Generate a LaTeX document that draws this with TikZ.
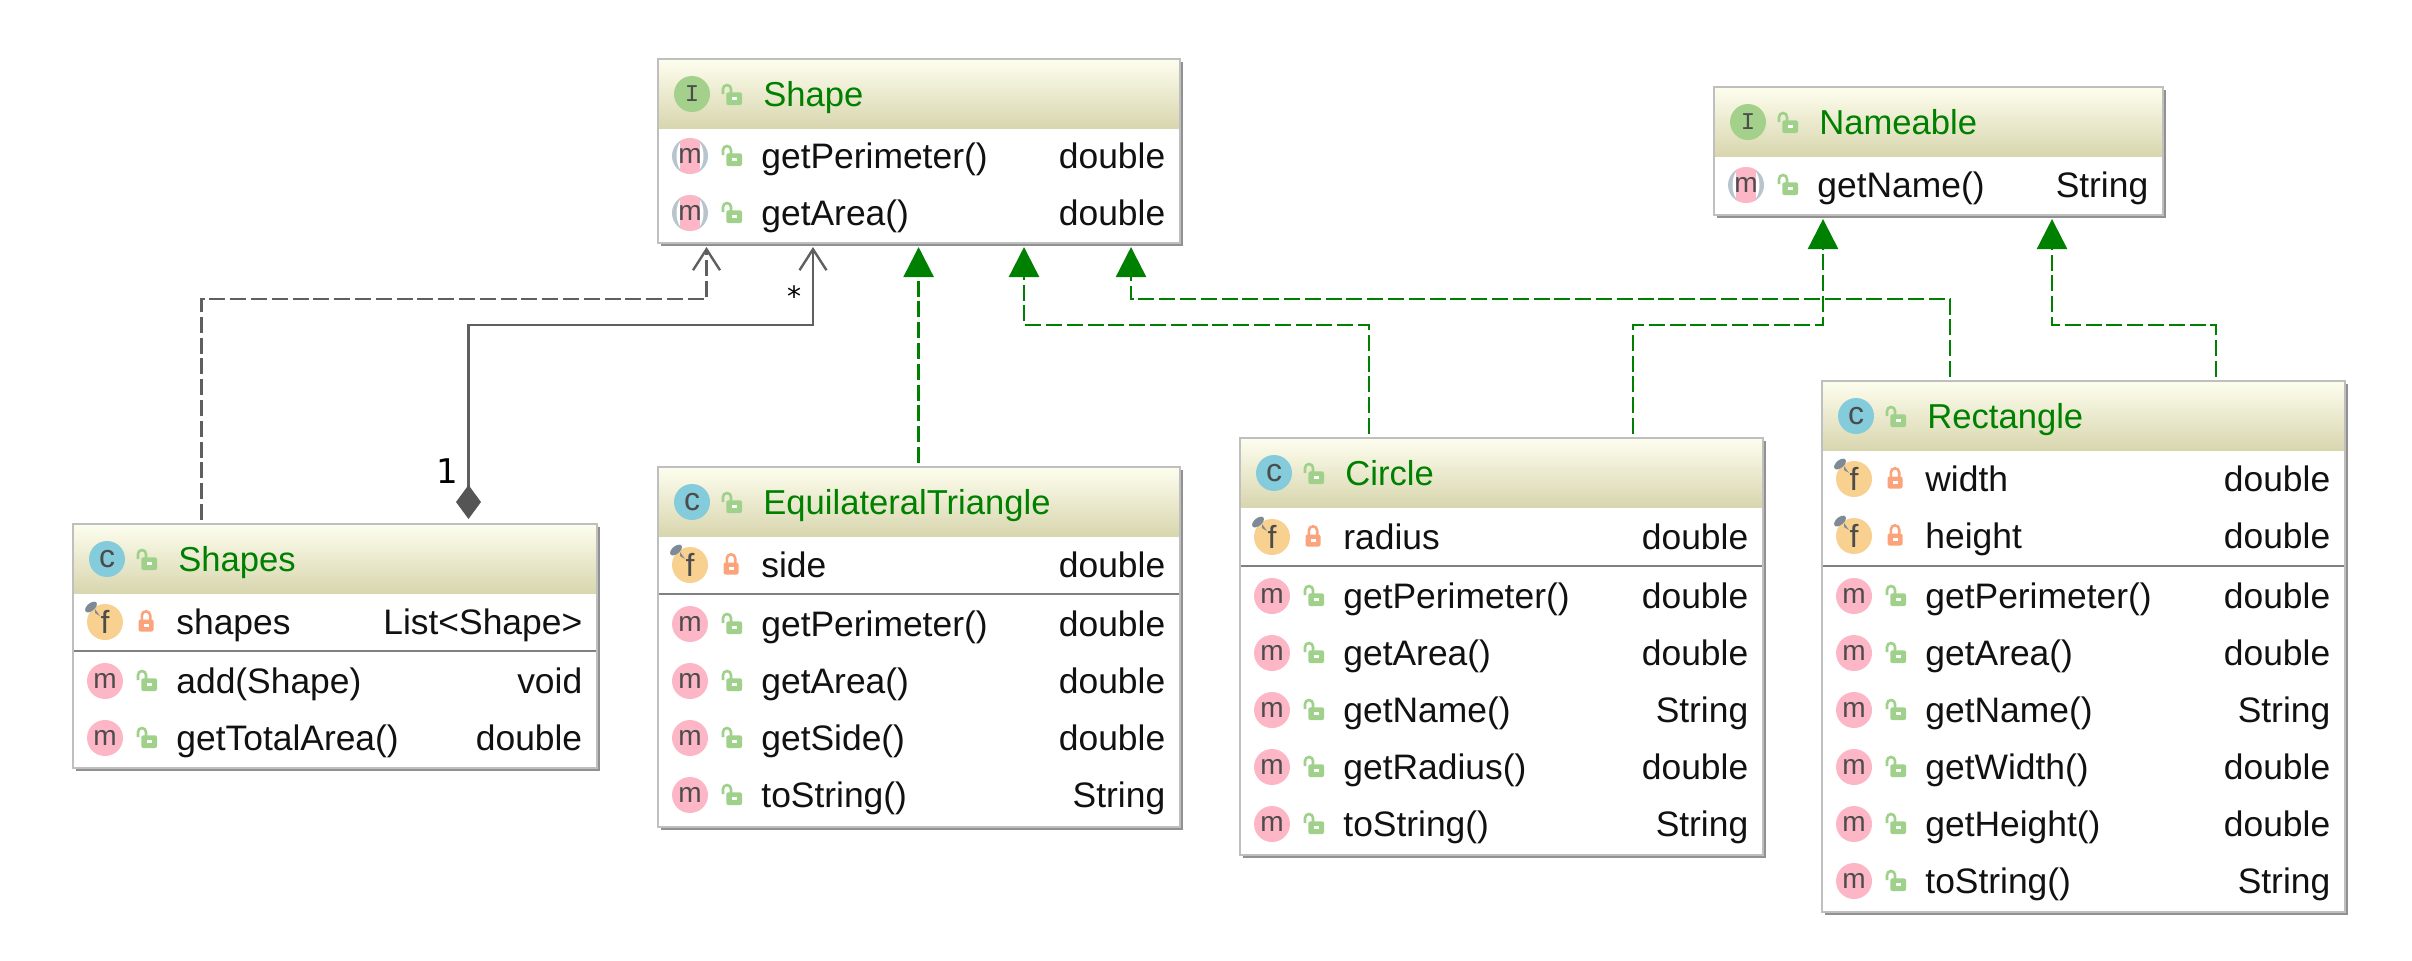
\documentclass[tikz,border=0pt]{standalone}
\usepackage{fontspec}
\setmainfont{Liberation Sans}
\newfontfamily\iconmono{Liberation Mono}
\newfontfamily\multifont{DejaVu Sans}
\usetikzlibrary{arrows.meta,shadows}
\definecolor{borderc}{RGB}{191, 191, 191}
\definecolor{shadowc}{RGB}{145, 145, 145}
\definecolor{sepc}{RGB}{128, 128, 128}
\definecolor{headtop}{RGB}{253, 253, 238}
\definecolor{headbottom}{RGB}{216, 214, 174}
\definecolor{titlec}{RGB}{0, 128, 0}
\definecolor{textc}{RGB}{17, 17, 17}
\definecolor{classc}{RGB}{132, 203, 219}
\definecolor{ifacec}{RGB}{163, 208, 138}
\definecolor{methodc}{RGB}{253, 182, 197}
\definecolor{fieldc}{RGB}{248, 208, 143}
\definecolor{absc}{RGB}{184, 196, 206}
\definecolor{pinc}{RGB}{125, 138, 152}
\definecolor{openc}{RGB}{159, 209, 139}
\definecolor{privc}{RGB}{251, 164, 124}
\definecolor{depc}{RGB}{95, 95, 95}
\definecolor{diamc}{RGB}{85, 85, 85}
\tikzset{
  classnode/.style={draw=borderc, line width=1.2pt, fill=white, rectangle, inner sep=0pt, outer sep=0pt, anchor=north west,
    drop shadow={shadow xshift=1.5pt, shadow yshift=-1.5pt, fill=shadowc, opacity=1}},
  classhead/.style={rectangle, inner sep=0pt, outer sep=0pt, anchor=north west, minimum height=34pt, top color=headtop, bottom color=headbottom},
  titletext/.style={text=titlec, inner sep=0pt, anchor=base west, font=\fontsize{17.3pt}{20pt}\selectfont},
  membertext/.style={text=textc, inner sep=0pt, font=\fontsize{17.7pt}{20pt}\selectfont},
  iconbase/.style={circle, inner sep=0pt, minimum size=18pt, text=black!70, font=\fontsize{14pt}{15pt}\selectfont},
  classicon/.style={iconbase, fill=classc, font=\fontsize{16pt}{15pt}\selectfont},
  ifaceicon/.style={iconbase, fill=ifacec, font=\iconmono\fontsize{12pt}{15pt}\selectfont},
  methodicon/.style={iconbase, fill=methodc},
  fieldicon/.style={iconbase, fill=fieldc, font=\fontsize{16pt}{15pt}\selectfont},
  absicon/.style={iconbase, fill=absc, path picture={
    \fill[white] (path picture bounding box.center) ellipse (13.5 and 20);
    \fill[methodc] ([xshift=-5.2pt,yshift=-10pt]path picture bounding box.center) rectangle ([xshift=5.2pt,yshift=10pt]path picture bounding box.center);}},
  fieldsep/.style={draw=sepc, line width=1.3pt},
  openlock/.pic={
    \draw[openc, line width=1.3pt] (-8,-1) -- (-8,-6) arc[start angle=180, end angle=360, x radius=4, y radius=4] -- (0,-2);
    \fill[openc, rounded corners=1pt] (-4.7,-2.7) rectangle (11,10);
    \fill[white] (1,2) rectangle (6,4.5);
  },
  privlock/.pic={
    \draw[privc, line width=1.3pt] (-4.2,-2) -- (-4.2,-6.5) arc[start angle=180, end angle=360, x radius=4.2, y radius=4.2] -- (4.2,-2);
    \fill[privc, rounded corners=1pt] (-7.5,-2.5) rectangle (7.5,9.5);
    \fill[white] (-2.5,1.5) rectangle (2.5,4.5);
  },
  fieldpin/.pic={
    \fill[pinc, rotate around={40:(-14,-15)}] (-14,-15) ellipse (7 and 3.8);
    \fill[pinc] (-10,-13) -- (-5,-6) -- (-10,-9) -- cycle;
  },
  depline/.style={draw=depc, line width=1.2pt, dash pattern=on 8pt off 2.4pt, -{Straight Barb[length=10.5pt, width=13.5pt]}},
  ownline/.style={draw=depc, line width=1.2pt, {Diamond[length=17pt, width=12.5pt, color=diamc]}-{Straight Barb[length=10.5pt, width=13.5pt]}},
  realline/.style={draw=titlec, line width=1.2pt, dash pattern=on 8pt off 2.4pt, -{Triangle[length=15pt, width=15pt]}},
  multitext/.style={inner sep=0pt, text=black, font=\multifont\fontsize{#1}{17pt}\selectfont},
}
% class box: name, left, top, width, height, icon style, icon letter, title
\newcommand{\classbox}[8]{
  \node[classnode, minimum width=#4pt, minimum height=#5pt] (#1) at (#2,#3) {};
  \node[classhead, minimum width=#4pt-1.2pt] (#1-head) at ([xshift=.6pt,yshift=-.6pt]#1.north west) {};
  \node[#6] (#1-icon) at ([xshift=17pt,yshift=-17.5pt]#1.north west) {#7};
  \pic at ([xshift=36.5pt,yshift=-18pt]#1.north west) {openlock};
  \node[titletext] (#1-title) at ([xshift=52.5pt,yshift=-23.8pt]#1.north west) {#8};
}
% member texts: class, row, offset from top, name, type
\newcommand{\memberrow}[5]{
  \node[membertext, anchor=base west] (#1-#2-name) at ([xshift=51.5pt,yshift=-#3pt-6pt]#1.north west) {#4};
  \node[membertext, anchor=base east] (#1-#2-type) at ([xshift=-7.2pt,yshift=-#3pt-6pt]#1.north east) {#5};
}
\newcommand{\classmethod}[5]{
  \node[methodicon] (#1-#2-icon) at ([xshift=16pt,yshift=-#3pt]#1.north west) {m};
  \pic at ([xshift=36.5pt,yshift=-#3pt]#1.north west) {openlock};
  \memberrow{#1}{#2}{#3}{#4}{#5}
}
\newcommand{\abstractmethod}[5]{
  \node[absicon] (#1-#2-icon) at ([xshift=16pt,yshift=-#3pt]#1.north west) {m};
  \pic at ([xshift=36.5pt,yshift=-#3pt]#1.north west) {openlock};
  \memberrow{#1}{#2}{#3}{#4}{#5}
}
\newcommand{\classfield}[5]{
  \node[fieldicon] (#1-#2-icon) at ([xshift=16pt,yshift=-#3pt]#1.north west) {f};
  \pic at (#1-#2-icon.center) {fieldpin};
  \pic at ([xshift=36.5pt,yshift=-#3pt]#1.north west) {privlock};
  \memberrow{#1}{#2}{#3}{#4}{#5}
}
\newcommand{\sepline}[2]{
  \draw[fieldsep] ([xshift=.6pt,yshift=-#2pt]#1.north west) -- ([xshift=-.6pt,yshift=-#2pt]#1.north east);
}
\begin{document}
\begin{tikzpicture}[x=0.5pt, y=-0.5pt]
    \useasboundingbox (0,0) rectangle (2412,960);

    % Shape
    \classbox{shape}{658}{59}{261}{92}{ifaceicon}{I}{Shape}
    \abstractmethod{shape}{perim}{48.5}{getPerimeter()}{double}
    \abstractmethod{shape}{area}{77}{getArea()}{double}

    % Nameable
    \classbox{nameable}{1714}{87}{224.5}{64}{ifaceicon}{I}{Nameable}
    \abstractmethod{nameable}{name}{49}{getName()}{String}

    % Shapes
    \classbox{shapes}{73}{524}{262}{122}{classicon}{c}{Shapes}
    \classfield{shapes}{list}{49}{shapes}{List<Shape>}
    \sepline{shapes}{63.5}
    \classmethod{shapes}{add}{78.5}{add(Shape)}{void}
    \classmethod{shapes}{total}{107}{getTotalArea()}{double}

    % EquilateralTriangle
    \classbox{triangle}{658}{467}{261}{180}{classicon}{c}{EquilateralTriangle}
    \classfield{triangle}{side}{49}{side}{double}
    \sepline{triangle}{63.5}
    \classmethod{triangle}{perim}{78.5}{getPerimeter()}{double}
    \classmethod{triangle}{area}{107}{getArea()}{double}
    \classmethod{triangle}{getside}{135.5}{getSide()}{double}
    \classmethod{triangle}{str}{164}{toString()}{String}

    % Circle
    \classbox{circle}{1240}{438}{261.5}{208.5}{classicon}{c}{Circle}
    \classfield{circle}{radius}{49.5}{radius}{double}
    \sepline{circle}{64}
    \classmethod{circle}{perim}{79}{getPerimeter()}{double}
    \classmethod{circle}{area}{107.5}{getArea()}{double}
    \classmethod{circle}{getname}{136}{getName()}{String}
    \classmethod{circle}{getradius}{164.5}{getRadius()}{double}
    \classmethod{circle}{str}{193}{toString()}{String}

    % Rectangle
    \classbox{rect}{1822}{381}{261.5}{265.5}{classicon}{c}{Rectangle}
    \classfield{rect}{width}{49}{width}{double}
    \classfield{rect}{height}{77.5}{height}{double}
    \sepline{rect}{92.5}
    \classmethod{rect}{perim}{107.5}{getPerimeter()}{double}
    \classmethod{rect}{area}{136}{getArea()}{double}
    \classmethod{rect}{getname}{164.5}{getName()}{String}
    \classmethod{rect}{getwidth}{193}{getWidth()}{double}
    \classmethod{rect}{getheight}{221.5}{getHeight()}{double}
    \classmethod{rect}{str}{250}{toString()}{String}

    % Connector ends and routing levels
    \coordinate (upper) at (0,299);
    \coordinate (lower) at (0,325);
    \coordinate (shapeUse) at ([xshift=24.25pt,yshift=-2pt]shape.south west);
    \coordinate (shapeOwn) at ([xshift=77.5pt,yshift=-2pt]shape.south west);
    \coordinate (shapeTri) at ([xshift=130.3pt,yshift=-2pt]shape.south west);
    \coordinate (shapeCirc) at ([xshift=183pt,yshift=-2pt]shape.south west);
    \coordinate (shapeRect) at ([xshift=236.5pt,yshift=-2pt]shape.south west);
    \coordinate (nameCirc) at ([xshift=54.5pt,yshift=-2pt]nameable.south west);
    \coordinate (nameRect) at ([xshift=169pt,yshift=-2pt]nameable.south west);
    \coordinate (shapesUse) at ([xshift=64.25pt,yshift=2pt]shapes.north west);
    \coordinate (shapesOwn) at ([xshift=197.75pt,yshift=2.5pt]shapes.north west);
    \coordinate (triUp) at ([xshift=130.3pt,yshift=2pt]triangle.north west);
    \coordinate (circLeft) at ([xshift=64.5pt,yshift=2pt]circle.north west);
    \coordinate (circRight) at ([xshift=196.5pt,yshift=2pt]circle.north west);
    \coordinate (rectLeft) at ([xshift=64pt,yshift=2pt]rect.north west);
    \coordinate (rectRight) at ([xshift=197pt,yshift=2pt]rect.north west);

    % Usage and composition
    \draw[depline] (shapesUse) -- (shapesUse |- upper) -- (shapeUse |- upper) -- (shapeUse);
    \draw[ownline] (shapesOwn) -- (shapesOwn |- lower) -- (shapeOwn |- lower) -- (shapeOwn);
    \node[multitext=17pt, anchor=center] (ownOne) at (447,471) {1};
    \node[multitext=14pt, anchor=center] (ownMany) at (794,296) {*};

    % Realizations
    \draw[realline] (triUp) -- (shapeTri);
    \draw[realline] (circLeft) -- (circLeft |- lower) -- (shapeCirc |- lower) -- (shapeCirc);
    \draw[realline] (rectLeft) -- (rectLeft |- upper) -- (shapeRect |- upper) -- (shapeRect);
    \draw[realline] (circRight) -- (circRight |- lower) -- (nameCirc |- lower) -- (nameCirc);
    \draw[realline] (rectRight) -- (rectRight |- lower) -- (nameRect |- lower) -- (nameRect);
\end{tikzpicture}
\end{document}
